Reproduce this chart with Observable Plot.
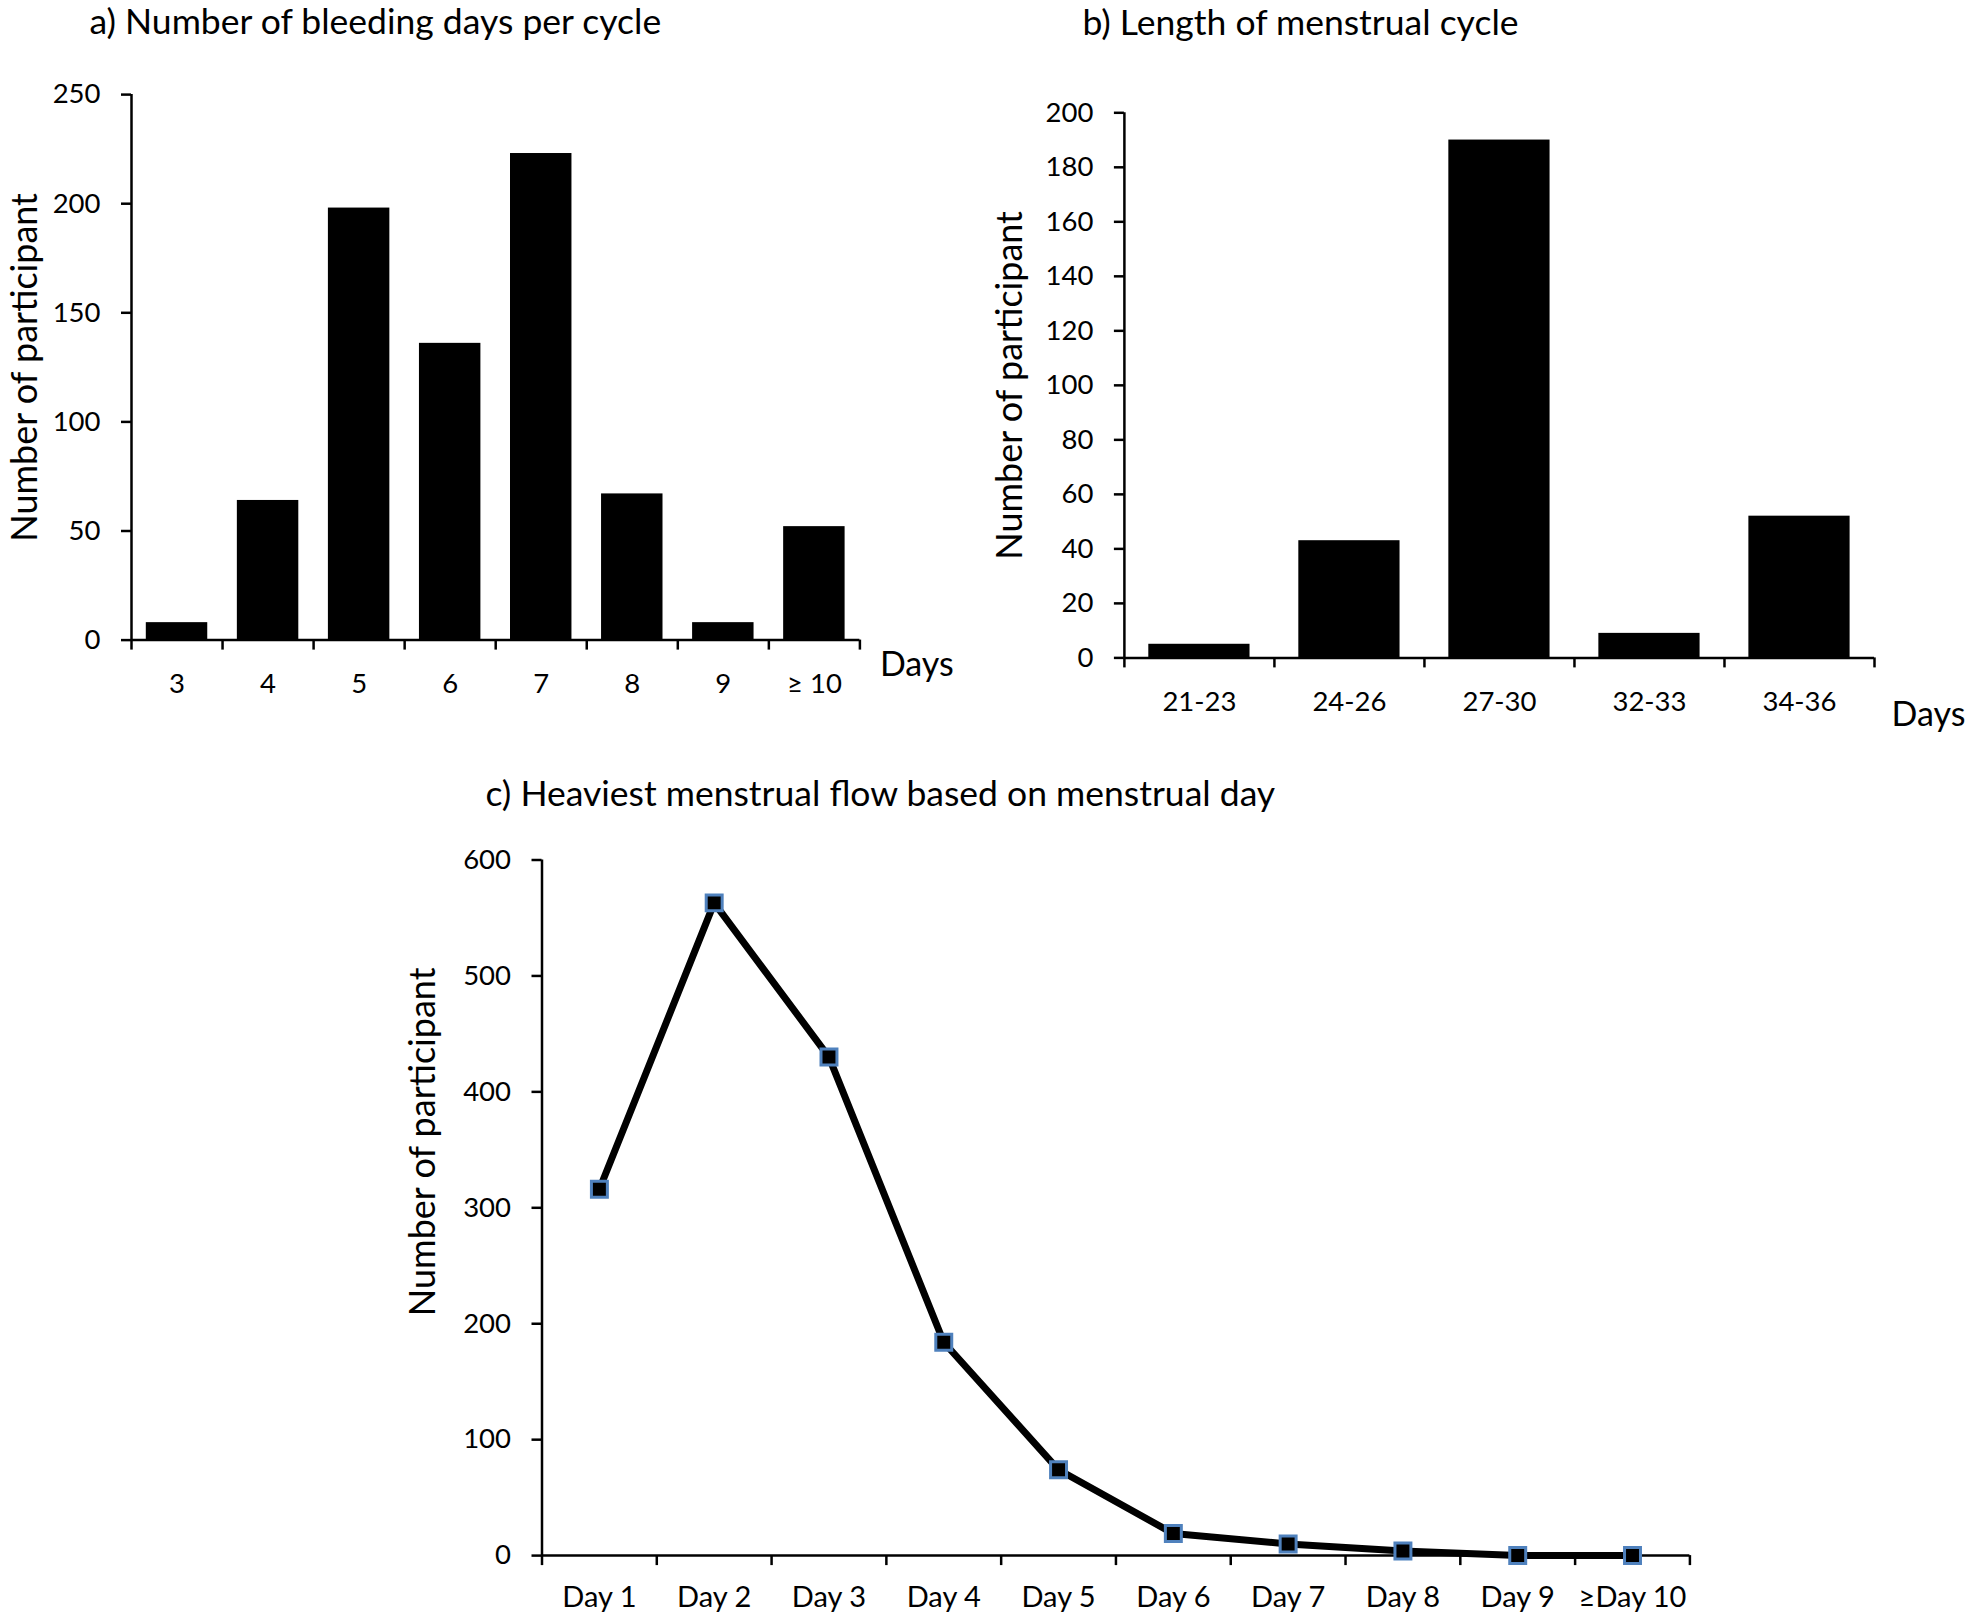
<!DOCTYPE html>
<html><head><meta charset="utf-8">
<script src="https://cdn.jsdelivr.net/npm/d3@7"></script>
<script src="https://cdn.jsdelivr.net/npm/@observablehq/plot@0.6"></script>
<style>
html,body{margin:0;padding:0;background:#fff;}
#root{position:relative;width:1968px;height:1612px;background:#fff;overflow:hidden;}
#root > div{position:absolute;}
#a{left:0;top:0;} #b{left:980px;top:0;} #c{left:380px;top:760px;}
svg{overflow:visible}
</style></head><body><div id="root"><div id="a"></div><div id="b"></div><div id="c"></div></div>
<script>
// ---- data ----
const bleedDays = ["3", "4", "5", "6", "7", "8", "9", "≥ 10"];
const bleedCounts = [8, 64, 198, 136, 223, 67, 8, 52];
const bleedTicks = [0, 50, 100, 150, 200, 250];

const cycleLengths = ["21-23", "24-26", "27-30", "32-33", "34-36"];
const cycleCounts = [5, 43, 190, 9, 52];
const cycleTicks = [0, 20, 40, 60, 80, 100, 120, 140, 160, 180, 200];

const flowDays = ["Day 1", "Day 2", "Day 3", "Day 4", "Day 5", "Day 6", "Day 7", "Day 8", "Day 9", "≥Day 10"];
const flowCounts = [316, 563, 430, 184, 74, 19, 10, 4, 0, 0];
const flowTicks = [0, 100, 200, 300, 400, 500, 600];

const titleA = "a) Number of bleeding days per cycle";
const titleB = "b) Length of menstrual cycle";
const titleC = "c) Heaviest menstrual flow based on menstrual day";
const yLabel = "Number of participant";
const xUnit = "Days";

const FONT = "Lato, sans-serif";
const TICK_FS = 27.5, LABEL_FS = 36, UNIT_FS = 34, TITLE_FS = 35.5, SW = 2.5;

function frameMarks(cats, ticks, labelPad, xFs = TICK_FS) {
  return [
    Plot.ruleX([0], {stroke: "#000", strokeWidth: SW}),
    Plot.ruleY([0], {stroke: "#000", strokeWidth: SW}),
    Plot.axisY({ticks, tickSize: 10, tickPadding: 21, fontSize: TICK_FS, strokeWidth: SW, label: null}),
    Plot.axisX({ticks: d3.range(cats.length + 1), tickSize: 10, tickFormat: () => "", strokeWidth: SW, label: null}),
    Plot.axisX({ticks: cats.map((d, i) => i + 0.5), tickSize: 0, tickPadding: labelPad,
      tickFormat: v => cats[Math.floor(v)], fontSize: xFs, label: null})
  ];
}
function yTitle(dx, dy) {
  return Plot.text([yLabel], {frameAnchor: "left", rotate: -90, textAnchor: "middle", lineAnchor: "middle", dx, dy, fontSize: LABEL_FS});
}
function unitLabel(dx, dy) {
  return Plot.text([xUnit], {frameAnchor: "bottom-right", textAnchor: "start", lineAnchor: "middle", dx, dy, fontSize: UNIT_FS});
}
function chartTitle(t, dx, dy) {
  return Plot.text([t], {frameAnchor: "top-left", textAnchor: "start", lineAnchor: "middle", dx, dy, fontSize: TITLE_FS});
}

// ---- chart a ----
const chartA = Plot.plot({
  width: 980, height: 730,
  marginLeft: 131, marginRight: 120.6, marginTop: 94.1, marginBottom: 90.4,
  style: {fontFamily: FONT, color: "#000", background: "#fff"},
  x: {type: "linear", domain: [0, bleedDays.length], axis: null},
  y: {domain: [0, 250], axis: null},
  marks: [
    Plot.rect(bleedCounts, {x1: (d, i) => i, x2: (d, i) => i + 1, y1: 0, y2: d => d, fill: "#000", insetLeft: 14.8, insetRight: 14.8}),
    ...frameMarks(bleedDays, bleedTicks, 33),
    unitLabel(20, 25.5),
    yTitle(-106, 0),
    chartTitle(titleA, -42, -71.5)
  ]
});
document.getElementById("a").append(chartA);

// ---- chart b ----
const chartB = Plot.plot({
  width: 988, height: 750,
  marginLeft: 143.9, marginRight: 94, marginTop: 112.3, marginBottom: 92.6,
  style: {fontFamily: FONT, color: "#000", background: "#fff"},
  x: {type: "linear", domain: [0, cycleLengths.length], axis: null},
  y: {domain: [0, 200], axis: null},
  marks: [
    Plot.rect(cycleCounts, {x1: (d, i) => i, x2: (d, i) => i + 1, y1: 0, y2: d => d, fill: "#000", insetLeft: 24.4, insetRight: 24.4}),
    ...frameMarks(cycleLengths, cycleTicks, 34),
    unitLabel(17, 57),
    yTitle(-114.4, 0),
    chartTitle(titleB, -42, -88.7)
  ]
});
document.getElementById("b").append(chartB);

// ---- chart c ----
const chartC = Plot.plot({
  width: 1400, height: 852,
  marginLeft: 161.5, marginRight: 90.6, marginTop: 99.5, marginBottom: 56.9,
  style: {fontFamily: FONT, color: "#000", background: "#fff"},
  x: {type: "linear", domain: [0, flowDays.length], axis: null},
  y: {domain: [0, 600], axis: null},
  marks: [
    ...frameMarks(flowDays, flowTicks, 31, 29),
    Plot.line(flowCounts, {x: (d, i) => i + 0.5, y: d => d, stroke: "#000", strokeWidth: 7}),
    Plot.dot(flowCounts, {x: (d, i) => i + 0.5, y: d => d, symbol: "square", r: 9, fill: "#000", stroke: "#4f81bd", strokeWidth: 3}),
    yTitle(-119, -66),
    chartTitle(titleC, -56.5, -64.9)
  ]
});
document.getElementById("c").append(chartC);
</script></body></html>
